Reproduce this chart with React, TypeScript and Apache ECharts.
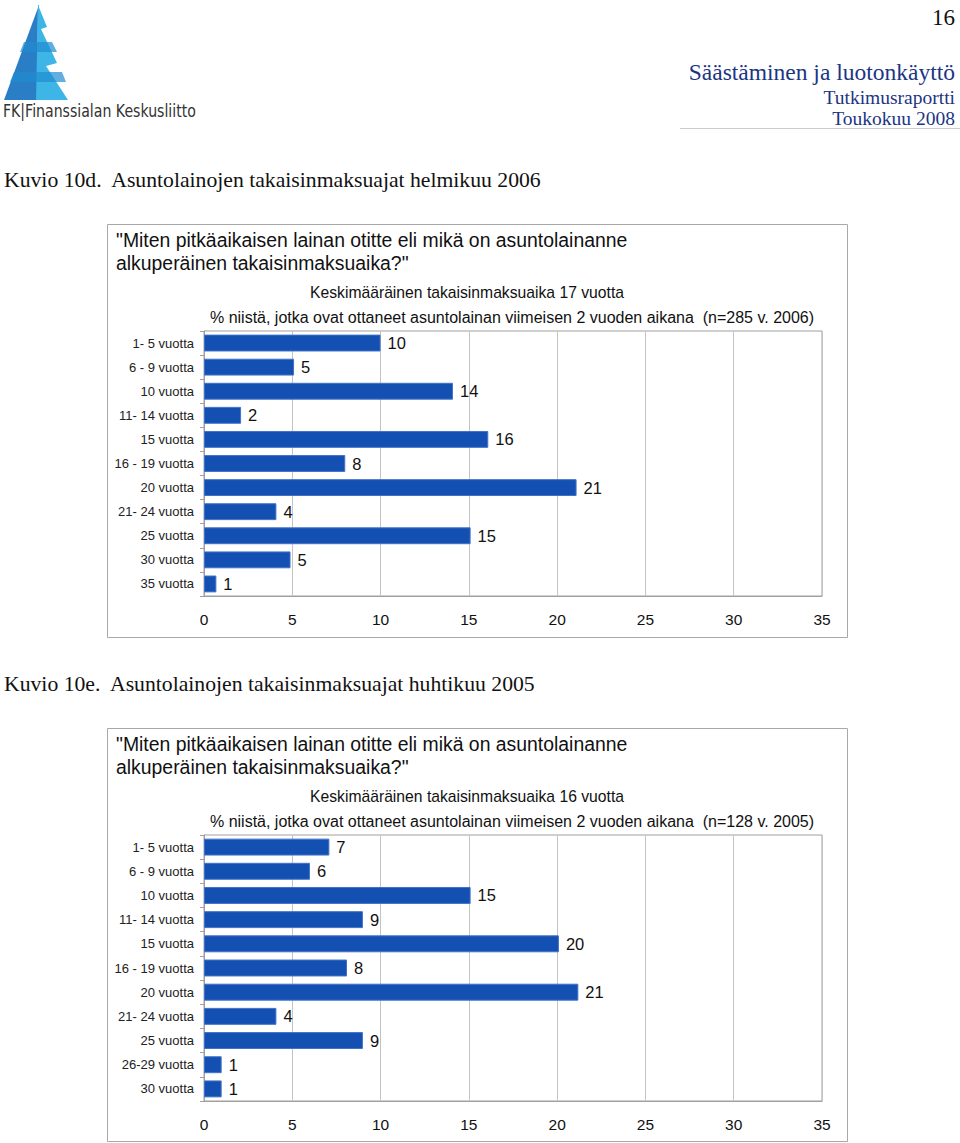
import React, { useEffect, useRef } from "react";
import * as echarts from "echarts";

const categories1 = [
  "1- 5 vuotta", "6 - 9 vuotta", "10 vuotta", "11- 14 vuotta", "15 vuotta",
  "16 - 19 vuotta", "20 vuotta", "21- 24 vuotta", "25 vuotta", "30 vuotta", "35 vuotta",
];
const values1 = [10, 5.1, 14.1, 2.1, 16.1, 8, 21.1, 4.1, 15.1, 4.9, 0.7];

const categories2 = [
  "1- 5 vuotta", "6 - 9 vuotta", "10 vuotta", "11- 14 vuotta", "15 vuotta",
  "16 - 19 vuotta", "20 vuotta", "21- 24 vuotta", "25 vuotta", "26-29 vuotta", "30 vuotta",
];
const values2 = [7.1, 6, 15.1, 9, 20.1, 8.1, 21.2, 4.1, 9, 1, 1];

const xTicks = [0, 5, 10, 15, 20, 25, 30, 35];

const SANS = "'Liberation Sans', Arial, sans-serif";
const SERIF = "'Liberation Serif', 'Times New Roman', serif";
const BAR = "#1450b2";
const NAVY = "#1b3583";

function makeGraphic() {
  const g: any[] = [];
  // logo
  g.push({ type: "polygon", shape: { points: [[39, 5], [4, 100], [37, 100], [38, 5]] }, style: { fill: "#2a7ec6" } });
  g.push({ type: "polygon", shape: { points: [[38, 5], [47, 27], [41, 29], [57, 63], [46, 66], [68, 100], [36, 100]] }, style: { fill: "#3db5e6" } });
  g.push({ type: "polygon", shape: { points: [[24, 42], [52, 42], [57, 52], [20, 52]] }, style: { fill: "#1f8bd0", opacity: 0.7 } });
  g.push({ type: "polygon", shape: { points: [[14, 72], [62, 72], [66, 82], [10, 82]] }, style: { fill: "#1f8bd0", opacity: 0.7 } });
  g.push({ type: "text", x: 3, y: 112, scaleX: 0.83, style: { text: "FK|Finanssialan Keskusliitto", font: `17px 'DejaVu Sans', sans-serif`, fill: "#333", textVerticalAlign: "middle" } });
  // header right
  g.push({ type: "text", x: 955, y: 17, style: { text: "16", font: `23px ${SERIF}`, fill: "#111", textAlign: "right", textVerticalAlign: "middle" } });
  g.push({ type: "text", x: 955, y: 72, style: { text: "Säästäminen ja luotonkäyttö", font: `23.5px ${SERIF}`, fill: NAVY, textAlign: "right", textVerticalAlign: "middle" } });
  g.push({ type: "text", x: 955, y: 97, style: { text: "Tutkimusraportti", font: `19.5px ${SERIF}`, fill: NAVY, textAlign: "right", textVerticalAlign: "middle" } });
  g.push({ type: "text", x: 955, y: 118, style: { text: "Toukokuu 2008", font: `19.5px ${SERIF}`, fill: NAVY, textAlign: "right", textVerticalAlign: "middle" } });
  g.push({ type: "line", shape: { x1: 680, y1: 128.5, x2: 960, y2: 128.5 }, style: { stroke: "#cccccc", lineWidth: 1 } });
  // captions
  g.push({ type: "text", x: 4, y: 180, style: { text: "Kuvio 10d.  Asuntolainojen takaisinmaksuajat helmikuu 2006", font: `21.7px ${SERIF}`, fill: "#111", textVerticalAlign: "middle" } });
  g.push({ type: "text", x: 4, y: 684, style: { text: "Kuvio 10e.  Asuntolainojen takaisinmaksuajat huhtikuu 2005", font: `21.7px ${SERIF}`, fill: "#111", textVerticalAlign: "middle" } });

  const boxes = [
    { top: 224, bottom: 637, mean: "Keskimääräinen takaisinmaksuaika 17 vuotta", n: "% niistä, jotka ovat ottaneet asuntolainan viimeisen 2 vuoden aikana  (n=285 v. 2006)" },
    { top: 728, bottom: 1141, mean: "Keskimääräinen takaisinmaksuaika 16 vuotta", n: "% niistä, jotka ovat ottaneet asuntolainan viimeisen 2 vuoden aikana  (n=128 v. 2005)" },
  ];
  boxes.forEach((b) => {
    g.push({ type: "rect", shape: { x: 107.5, y: b.top + 0.5, width: 740, height: b.bottom - b.top }, style: { fill: "none", stroke: "#a8a8a8", lineWidth: 1 }, z: -1 });
    g.push({ type: "text", x: 116, y: b.top + 16, style: { text: '"Miten pitkäaikaisen lainan otitte eli mikä on asuntolainanne', font: `19.4px ${SANS}`, fill: "#111", textVerticalAlign: "middle" } });
    g.push({ type: "text", x: 116, y: b.top + 39, style: { text: 'alkuperäinen takaisinmaksuaika?"', font: `19.4px ${SANS}`, fill: "#111", textVerticalAlign: "middle" } });
    g.push({ type: "text", x: 467, y: b.top + 68, style: { text: b.mean, font: `15.7px ${SANS}`, fill: "#111", textAlign: "center", textVerticalAlign: "middle" } });
    g.push({ type: "text", x: 512, y: b.top + 93, style: { text: b.n, font: `16px ${SANS}`, fill: "#111", textAlign: "center", textVerticalAlign: "middle" } });
  });
  return g;
}

function xAxis(gridIndex: number) {
  return {
    type: "value",
    gridIndex,
    min: 0,
    max: 35,
    interval: 5,
    axisLine: { show: true, lineStyle: { color: "#a0a0a0" } },
    axisTick: { show: false },
    splitLine: { show: true, lineStyle: { color: "#c4c4c4", width: 1 } },
    axisLabel: { fontSize: 15.5, color: "#111", fontFamily: SANS, margin: 15, formatter: (v: number) => (xTicks.includes(v) ? String(v) : "") },
  };
}

function yAxis(gridIndex: number, cats: string[]) {
  return {
    type: "category",
    gridIndex,
    data: cats,
    inverse: true,
    axisLine: { show: true, lineStyle: { color: "#a0a0a0" } },
    axisTick: { show: true, length: 4, lineStyle: { color: "#a0a0a0" } },
    axisLabel: { fontSize: 13, color: "#222", fontFamily: SANS, margin: 10 },
  };
}

function series(idx: number, vals: number[]) {
  return {
    type: "bar",
    xAxisIndex: idx,
    yAxisIndex: idx,
    data: vals,
    barCategoryGap: "30%",
    itemStyle: { color: BAR, borderColor: "#3f72c8", borderWidth: 1 },
    label: {
      show: true,
      position: "right",
      distance: 7,
      fontSize: 16.5,
      color: "#111",
      fontFamily: SANS,
      formatter: (p: any) => String(Math.round(p.value)),
    },
  };
}

export default function App() {
  const ref = useRef<HTMLDivElement>(null);
  useEffect(() => {
    if (!ref.current) return;
    const chart = echarts.init(ref.current, null, { renderer: "svg" });
    chart.setOption({
      animation: false,
      backgroundColor: "#ffffff",
      grid: [
        { left: 204, right: 138, top: 331, bottom: 1143 - 596, show: true, borderColor: "#a0a0a0", borderWidth: 1 },
        { left: 204, right: 138, top: 835, bottom: 1143 - 1101, show: true, borderColor: "#a0a0a0", borderWidth: 1 },
      ],
      xAxis: [xAxis(0), xAxis(1)],
      yAxis: [yAxis(0, categories1), yAxis(1, categories2)],
      series: [series(0, values1), series(1, values2)],
      graphic: makeGraphic(),
    });
    return () => chart.dispose();
  }, []);
  return (
    <div
      ref={ref}
      style={{ position: "absolute", left: 0, top: 0, width: 960, height: 1143, background: "#fff" }}
    />
  );
}
